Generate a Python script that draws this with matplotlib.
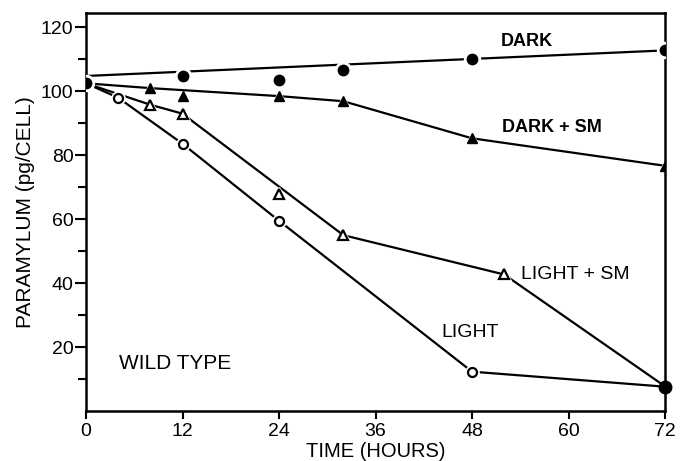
import matplotlib
matplotlib.use('Agg')
import matplotlib.pyplot as plt

plt.rcParams['font.family'] = ['Liberation Sans', 'DejaVu Sans']

# start point shared by all series
t0 = [0]
p0 = [102.5]

# DARK (filled circles) and its fitted line
dark_t = [12, 24, 32, 48, 72]
dark_p = [104.7, 103.6, 106.6, 110.0, 112.8]
dark_fit_t = [0, 72]
dark_fit_p = [104.8, 112.8]

# DARK + SM (filled triangles)
dsm_t = [0, 8, 24, 32, 48, 72]
dsm_p = [102.5, 101.0, 98.5, 96.9, 85.3, 76.7]
dsm_extra_t = [12]
dsm_extra_p = [98.4]

# LIGHT + SM (open triangles)
lsm_t = [0, 8, 12, 32, 52, 71.6]
lsm_p = [102.5, 95.8, 93.0, 55.0, 42.7, 8.4]
lsm_mk_t = [8, 12, 24, 32, 52]
lsm_mk_p = [95.8, 93.0, 68.0, 55.0, 42.7]

# LIGHT (open circles)
light_t = [0, 4, 12, 24, 48, 72]
light_p = [102.5, 98.0, 83.6, 59.5, 12.3, 7.6]
light_mk_t = [4, 12, 24, 48]
light_mk_p = [98.0, 83.6, 59.5, 12.3]

end_t = [72]
end_p = [7.6]

fig = plt.figure(figsize=(6.88, 4.61), dpi=100)
ax = fig.add_axes([0.125, 0.1085, 0.8416, 0.8633])

lw = 1.6
gap = dict(markeredgecolor='white', markeredgewidth=2.0)

# lines
ax.plot(dark_fit_t, dark_fit_p, color='black', lw=lw, zorder=1)
ax.plot(dsm_t, dsm_p, color='black', lw=lw, zorder=1)
ax.plot(lsm_t, lsm_p, color='black', lw=lw, zorder=1)
ax.plot(light_t, light_p, color='black', lw=lw, zorder=1)

# markers (white halo makes the small gaps in the lines)
ax.plot(dark_t, dark_p, 'o', ms=10.5, color='black', zorder=3, **gap)
ax.plot(dsm_t[1:], dsm_p[1:], '^', ms=9, color='white', zorder=2)
ax.plot(dsm_t[1:], dsm_p[1:], '^', ms=7.5, color='black', zorder=3)
ax.plot(dsm_extra_t, dsm_extra_p, '^', ms=7.5, color='black', zorder=3)
ax.plot(lsm_mk_t, lsm_mk_p, '^', ms=9.5, color='white', zorder=2)
ax.plot(lsm_mk_t, lsm_mk_p, '^', ms=6.5, markerfacecolor='white',
        markeredgecolor='black', markeredgewidth=1.6, zorder=3)
ax.plot(light_mk_t, light_mk_p, 'o', ms=9.5, color='white', zorder=2)
ax.plot(light_mk_t, light_mk_p, 'o', ms=6.5, markerfacecolor='white',
        markeredgecolor='black', markeredgewidth=1.6, zorder=3)
ax.plot(t0, p0, 'o', ms=10.5, color='black', zorder=4, **gap)
ax.plot(end_t, end_p, 'o', ms=9, color='black', zorder=4, clip_on=False)

ax.set_xlim(0, 72)
ax.set_ylim(0, 124.5)
ax.set_xticks([0, 12, 24, 36, 48, 60, 72])
ax.set_yticks([20, 40, 60, 80, 100, 120])
ax.set_yticks([10, 30, 50, 70, 90, 110], minor=True)
ax.tick_params(axis='x', which='major', direction='out', length=6, width=1.5,
               labelsize=14, pad=3)
ax.tick_params(axis='y', which='major', direction='out', length=8, width=1.5,
               labelsize=14, pad=1)
ax.tick_params(axis='y', which='minor', direction='out', length=6, width=1.5)
for s in ax.spines.values():
    s.set_linewidth(1.8)

ax.set_xlabel('TIME (HOURS)', fontsize=14.5, labelpad=1)
ax.set_ylabel('PARAMYLUM (pg/CELL)', fontsize=15, labelpad=4)

bold = dict(fontsize=13, fontweight='bold')
ax.text(54.8, 115.6, 'DARK', ha='center', va='center', **bold)
ax.text(58, 88.7, 'DARK + SM', ha='center', va='center', **bold)
ax.text(54.1, 42.8, 'LIGHT + SM', ha='left', va='center', fontsize=14)
ax.text(47.8, 24.7, 'LIGHT', ha='center', va='center', fontsize=14)
ax.text(4.1, 15.0, 'WILD TYPE', ha='left', va='center', fontsize=15)

fig.savefig('out.png', dpi=100)
